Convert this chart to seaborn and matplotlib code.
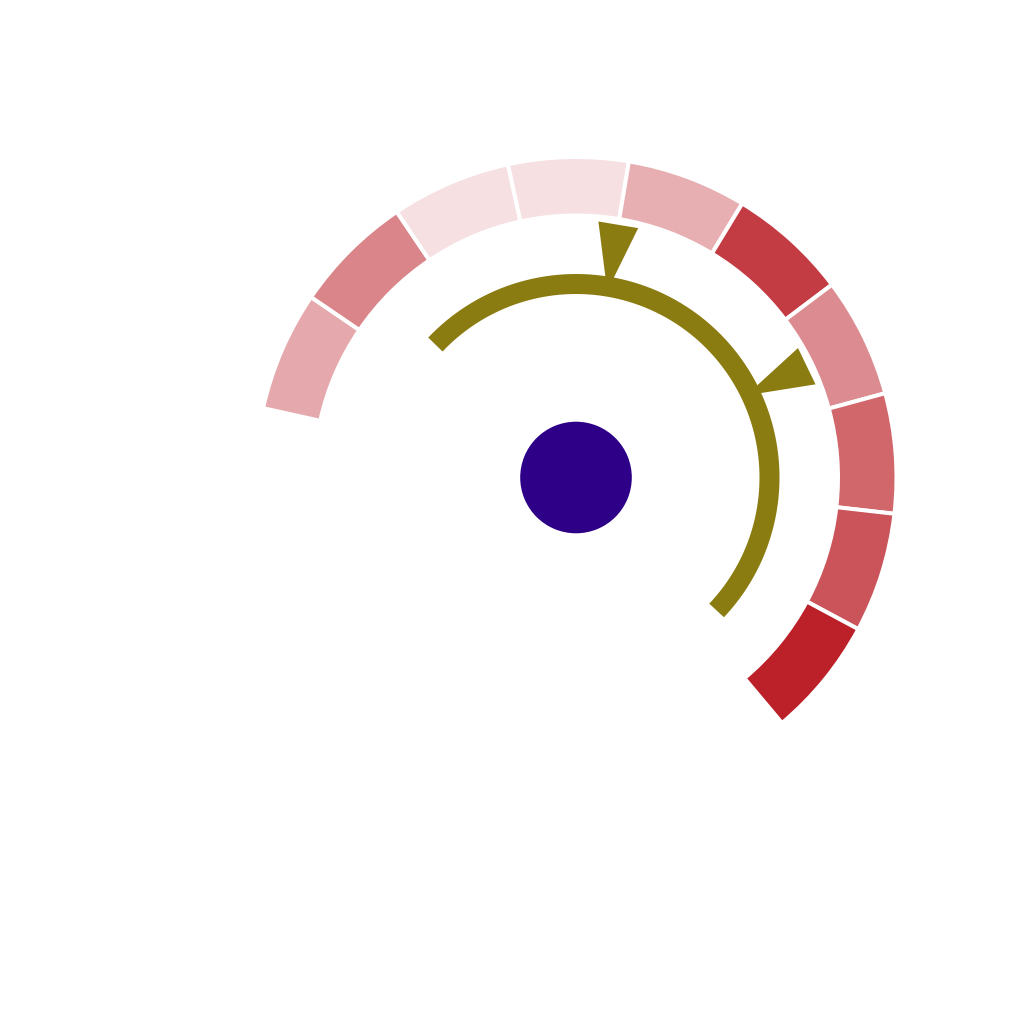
import numpy as np
import matplotlib
matplotlib.use("Agg")
import matplotlib.pyplot as plt
import seaborn as sns
from matplotlib.colors import to_rgba

sns.set_theme(style="white")

# ---- data ----
segment_intensity = [0.39, 0.55, 0.14, 0.14, 0.36, 0.88, 0.52, 0.69, 0.77, 1.0]
ring_start_deg = 167.5
ring_end_deg = -50.0
arc_start_deg = 136.6
arc_end_deg = -43.4
pointer_angles_deg = [80.5, 25.75]

# ---- styles (pixel units, since r-limit = 400 px) ----
BASE_RED = "#BC2129"
OLIVE = "#8B7C12"
INDIGO = "#2D0087"
R_IN, R_OUT = 264.0, 318.5
ARC_R, ARC_W_PX = 193.5, 20
PTR_BASE_R, PTR_TIP_R, PTR_HALF_DEG = 257.0, 189.0, 4.5
HUB_R = 55.8

fig = plt.figure(figsize=(10.24, 10.24), dpi=100)
P = 400
cx, cy = 576, 1024 - 477.5
ax = fig.add_axes([(cx - P) / 1024, (cy - P) / 1024, 2 * P / 1024, 2 * P / 1024],
                  projection="polar")
ax.set_theta_zero_location("E")
ax.set_theta_direction(1)
ax.set_ylim(0, P)
ax.set_axis_off()

# outer segmented ring
n = len(segment_intensity)
span = np.deg2rad(ring_start_deg - ring_end_deg)
w = span / n
centers = np.deg2rad(ring_start_deg) - w * (np.arange(n) + 0.5)
colors = [tuple(1 - a * (1 - c) for c in to_rgba(BASE_RED)[:3]) for a in segment_intensity]
lw_pt = 4 * 0.72
ax.bar(centers, (R_OUT - R_IN) + 4, width=w, bottom=R_IN - 2, color=colors,
       edgecolor="white", linewidth=lw_pt, align="center")

# inner arc
th = np.linspace(np.deg2rad(arc_start_deg), np.deg2rad(arc_end_deg), 400)
ax.plot(th, np.full_like(th, ARC_R), color=OLIVE, linewidth=ARC_W_PX * 0.72,
        solid_capstyle="butt")

# pointers
for a in pointer_angles_deg:
    t = np.deg2rad([a - PTR_HALF_DEG, a + PTR_HALF_DEG, a])
    ax.fill(t, [PTR_BASE_R, PTR_BASE_R, PTR_TIP_R], color=OLIVE, linewidth=0)

# hub
ax.bar(0, HUB_R, width=2 * np.pi, bottom=0, color=INDIGO, linewidth=0)

fig.savefig("out.png", dpi=100, facecolor="white")
